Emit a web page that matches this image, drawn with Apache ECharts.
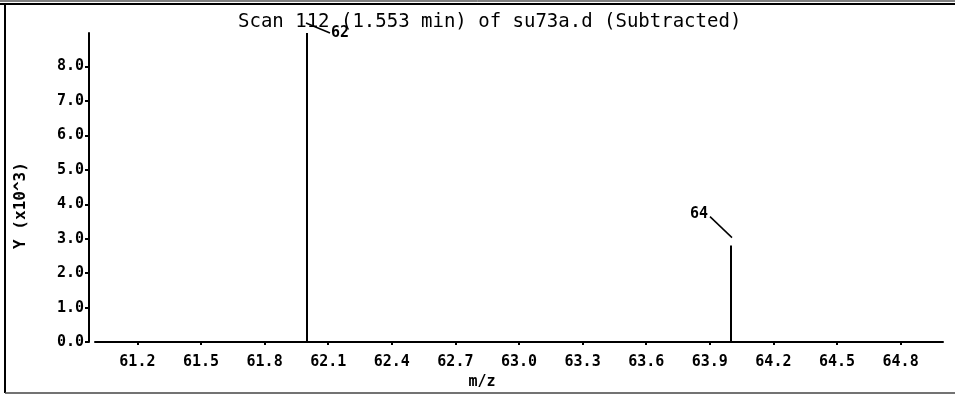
<!DOCTYPE html>
<html>
<head>
<meta charset="utf-8">
<script src="https://cdn.jsdelivr.net/npm/echarts@6/dist/echarts.min.js"></script>
<style>html,body{margin:0;padding:0;background:#fff}#c{width:955px;height:395px}</style>
</head>
<body>
<div id="c"></div>
<script>
var titleText = 'Scan 112 (1.553 min) of su73a.d (Subtracted)';
var peakMz = [62.0, 64.0];
var peakIntensity = [8970, 2800];
var peakLabels = ['62', '64'];
var xTicks = [61.2, 61.5, 61.8, 62.1, 62.4, 62.7, 63.0, 63.3, 63.6, 63.9, 64.2, 64.5, 64.8];
var xMin = 61.0, xMax = 65.0;
var yMin = 0, yMax = 8970, yStep = 1000;

var FONT = 'DejaVu Sans Mono';
var chart = echarts.init(document.getElementById('c'), null, {renderer: 'canvas'});

var leader = [
  {from: [-1, -10], to: [23, 0], text: [24, 0], align: 'left'},
  {from: [1, -8], to: [-21, -29], text: [-23, -32], align: 'right'}
];

var option = {
  backgroundColor: '#fff',
  animation: false,
  title: {
    text: titleText, left: 233, top: 8,
    textStyle: {fontFamily: FONT, fontSize: 19, fontWeight: 'normal', color: '#000'}
  },
  grid: {left: 95, right: 12, top: 33, bottom: 48},
  xAxis: {
    type: 'value', min: xMin, max: xMax, offset: 5,
    name: 'm/z', nameLocation: 'middle', nameGap: 22,
    nameTextStyle: {fontFamily: FONT, fontSize: 15, fontWeight: 'bold', color: '#000', padding: [0, 74, 0, 0]},
    axisLine: {show: true, lineStyle: {color: '#000', width: 2}},
    axisTick: {show: true, customValues: xTicks, length: 3, lineStyle: {color: '#000', width: 2}},
    axisLabel: {customValues: xTicks, margin: 8, fontFamily: FONT, fontSize: 15, fontWeight: 'bold', color: '#000',
      formatter: function (v) { return v.toFixed(1); }},
    splitLine: {show: false}
  },
  yAxis: {
    type: 'value', min: yMin, max: yMax, interval: yStep, offset: 6,
    name: 'Y (x10^3)', nameLocation: 'middle', nameGap: 60,
    nameTextStyle: {fontFamily: FONT, fontSize: 16, fontWeight: 'bold', color: '#000', padding: [0, 36, 0, 0]},
    axisLine: {show: true, lineStyle: {color: '#000', width: 2}},
    axisTick: {show: true, length: 4, lineStyle: {color: '#000', width: 2}},
    axisLabel: {margin: 5, fontFamily: FONT, fontSize: 15, fontWeight: 'bold', color: '#000',
      showMaxLabel: false,
      formatter: function (v) { return (v / 1000).toFixed(1); }},
    splitLine: {show: false}
  },
  series: [{
    type: 'custom',
    data: peakMz.map(function (m, i) { return [m, peakIntensity[i]]; }),
    renderItem: function (params, api) {
      var i = params.dataIndex;
      var p0 = api.coord([api.value(0), 0]);
      var p1 = api.coord([api.value(0), api.value(1)]);
      var L = leader[i];
      return {
        type: 'group',
        children: [
          {type: 'line', shape: {x1: p0[0], y1: p0[1], x2: p1[0], y2: p1[1]}, style: {stroke: '#000', lineWidth: 2}},
          {type: 'line', shape: {x1: p1[0] + L.from[0], y1: p1[1] + L.from[1], x2: p1[0] + L.to[0], y2: p1[1] + L.to[1]},
            style: {stroke: '#000', lineWidth: 1.5}},
          {type: 'text', x: p1[0] + L.text[0], y: p1[1] + L.text[1],
            style: {text: peakLabels[i], fill: '#000', font: 'bold 15px "DejaVu Sans Mono"', textAlign: L.align, textVerticalAlign: 'middle'}}
        ]
      };
    }
  }],
  graphic: [
    {type: 'line', shape: {x1: 0, y1: 1, x2: 955, y2: 1}, style: {stroke: '#000', lineWidth: 1}},
    {type: 'line', shape: {x1: 0, y1: 4, x2: 955, y2: 4}, style: {stroke: '#000', lineWidth: 2}},
    {type: 'line', shape: {x1: 5, y1: 4, x2: 5, y2: 393}, style: {stroke: '#000', lineWidth: 2}},
    {type: 'line', shape: {x1: 5, y1: 393, x2: 955, y2: 393}, style: {stroke: '#444', lineWidth: 1.5}}
  ]
};
chart.setOption(option);
</script>
</body>
</html>
